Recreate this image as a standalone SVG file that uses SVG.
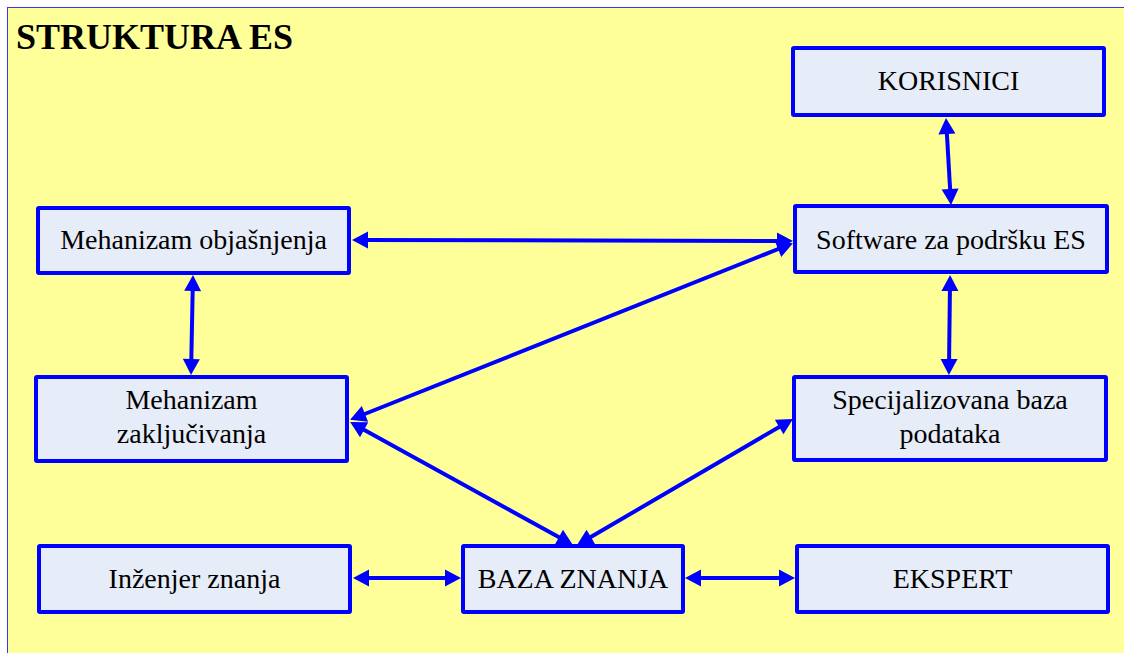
<svg xmlns="http://www.w3.org/2000/svg" width="1124" height="653" viewBox="0 0 1124 653">
  <style>
    .box { fill: #E6ECF8; stroke: #0000FF; stroke-width: 4; }
    .lbl { font-family: "Liberation Serif", "Times New Roman", serif; font-size: 28px; fill: #000; text-anchor: middle; }
    .conn line { stroke: #0000FF; stroke-width: 4; marker-start: url(#head); marker-end: url(#head); }
  </style>
  <defs>
    <marker id="head" markerUnits="userSpaceOnUse" markerWidth="22" markerHeight="22" viewBox="-2 -11 22 22" refX="7" refY="0" orient="auto-start-reverse">
      <path d="M0,-8.5 L16,0 L0,8.5 z" fill="#0000FF"/>
    </marker>
  </defs>

  <rect x="0" y="0" width="1124" height="653" fill="#FFFFFF"/>
  <rect x="7.5" y="7.5" width="1120" height="650" fill="#FFFF99" stroke="#3535FF" stroke-width="1"/>

  <text x="16" y="49" font-family="Liberation Serif, 'Times New Roman', serif" font-size="36" font-weight="bold" fill="#000">STRUKTURA ES</text>

  <g class="conn" id="connectors">
    <line x1="946.5" y1="127" x2="950.5" y2="196"/>
    <line x1="361" y1="240" x2="784" y2="241"/>
    <line x1="192.8" y1="284" x2="191.2" y2="366"/>
    <line x1="784.6" y1="246.5" x2="358.4" y2="416.5"/>
    <line x1="950" y1="284" x2="949" y2="366"/>
    <line x1="358" y1="426.4" x2="565" y2="540.6"/>
    <line x1="785.2" y1="423.5" x2="584.8" y2="540.5"/>
    <line x1="362" y1="578" x2="452" y2="578"/>
    <line x1="694" y1="578" x2="786" y2="578"/>
  </g>

  <g id="korisnici">
    <rect class="box" x="793" y="48" width="311" height="67" rx="1"/>
    <text class="lbl" x="948.5" y="90">KORISNICI</text>
  </g>
  <g id="software">
    <rect class="box" x="795" y="206" width="312" height="66" rx="1"/>
    <text class="lbl" x="951" y="249">Software za podršku ES</text>
  </g>
  <g id="objasnjenja">
    <rect class="box" x="38" y="208" width="311" height="65" rx="1"/>
    <text class="lbl" x="193.5" y="249">Mehanizam objašnjenja</text>
  </g>
  <g id="zakljucivanja">
    <rect class="box" x="36" y="377" width="311" height="84" rx="1"/>
    <text class="lbl" x="191.5" y="409">Mehanizam</text>
    <text class="lbl" x="191.5" y="443">zaključivanja</text>
  </g>
  <g id="specijalizovana">
    <rect class="box" x="794" y="377" width="312" height="83" rx="1"/>
    <text class="lbl" x="950" y="409">Specijalizovana baza</text>
    <text class="lbl" x="950" y="443">podataka</text>
  </g>
  <g id="inzenjer">
    <rect class="box" x="39" y="546" width="311" height="66" rx="1"/>
    <text class="lbl" x="194.5" y="588">Inženjer znanja</text>
  </g>
  <g id="baza">
    <rect class="box" x="463" y="546" width="220" height="66" rx="1"/>
    <text class="lbl" x="573" y="588">BAZA ZNANJA</text>
  </g>
  <g id="ekspert">
    <rect class="box" x="797" y="546" width="311" height="66" rx="1"/>
    <text class="lbl" x="952.5" y="588">EKSPERT</text>
  </g>
</svg>
